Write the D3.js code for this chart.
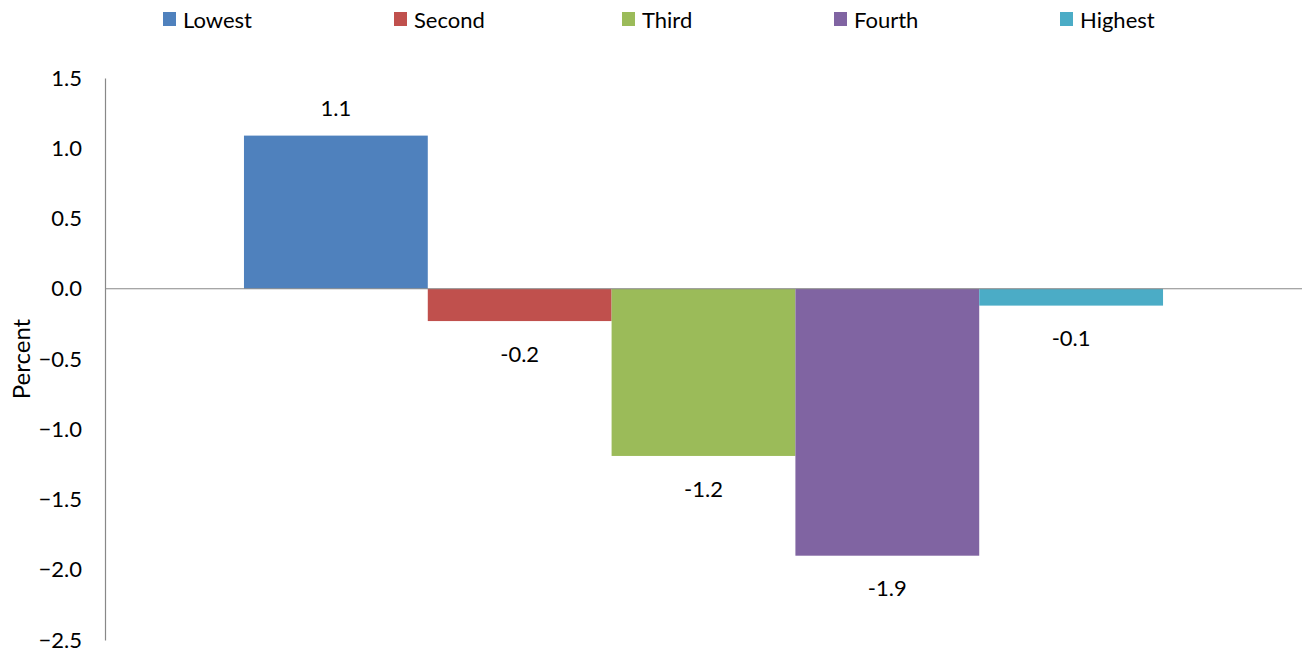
<!DOCTYPE html>
<html>
<head>
<meta charset="utf-8">
<script src="https://cdn.jsdelivr.net/npm/d3@7"></script>
<style>
  body { margin: 0; background: #fff; }
  text { font-family: Lato, "Open Sans", sans-serif; fill: #000; }
</style>
</head>
<body>
<div id="chart"></div>
<script>
// data
var series = ["Lowest", "Second", "Third", "Fourth", "Highest"];
var values = [1.09, -0.23, -1.19, -1.9, -0.12];
var labels = ["1.1", "-0.2", "-1.2", "-1.9", "-0.1"];
var colors = ["#4F81BD", "#C0504D", "#9BBB59", "#8064A2", "#4BACC6"];
var yTicks = [1.5, 1.0, 0.5, 0.0, -0.5, -1.0, -1.5, -2.0, -2.5];

var svgWidth = 1302, svgHeight = 651;
var margin = { top: 78, right: 0, bottom: 11, left: 105 };
var width = svgWidth - margin.left - margin.right;
var height = svgHeight - margin.top - margin.bottom;

var svg = d3.select("#chart").append("svg")
    .attr("width", svgWidth)
    .attr("height", svgHeight);

var chartGroup = svg.append("g")
    .attr("transform", `translate(${margin.left}, ${margin.top})`);

var xScale = d3.scaleBand()
    .domain(series)
    .range([0, width])
    .paddingInner(0)
    .paddingOuter(0.756);

var yScale = d3.scaleLinear()
    .domain([-2.5, 1.5])
    .range([height, 0]);

// y axis: labels only, plus the vertical line
var yAxis = d3.axisLeft(yScale)
    .tickValues(yTicks)
    .tickFormat(d3.format(".1f"))
    .tickSize(0)
    .tickPadding(23);

var yg = chartGroup.append("g").call(yAxis);
yg.select(".domain").attr("stroke", "#888").attr("stroke-width", 1.2);
yg.selectAll("text")
    .style("font-size", "22px")
    .style("font-family", "Lato, 'Open Sans', sans-serif")
    .attr("fill", "#000");

// bars
chartGroup.selectAll("rect.bar")
    .data(values)
    .enter()
    .append("rect")
    .attr("class", "bar")
    .attr("x", (d, i) => xScale(series[i]))
    .attr("width", xScale.bandwidth())
    .attr("y", d => yScale(Math.max(0, d)))
    .attr("height", d => Math.abs(yScale(d) - yScale(0)))
    .attr("fill", (d, i) => colors[i]);

// zero line
chartGroup.append("line")
    .attr("x1", 0)
    .attr("x2", width)
    .attr("y1", yScale(0))
    .attr("y2", yScale(0))
    .attr("stroke", "#888")
    .attr("stroke-width", 1.2);

// value labels
chartGroup.selectAll("text.val")
    .data(values)
    .enter()
    .append("text")
    .attr("class", "val")
    .attr("text-anchor", "middle")
    .attr("x", (d, i) => xScale(series[i]) + xScale.bandwidth() / 2)
    .attr("y", d => d >= 0 ? yScale(d) - 27 : yScale(d) + 33)
    .attr("dy", "0.35em")
    .style("font-size", "22px")
    .text((d, i) => labels[i]);

// y label
svg.append("text")
    .attr("text-anchor", "middle")
    .attr("transform", "translate(30," + (margin.top + yScale(-0.5)) + ")rotate(-90)")
    .style("font-size", "24px")
    .text("Percent");

// legend
var legendX = [163, 394, 622, 834, 1060];
var legend = svg.selectAll("g.legend")
    .data(series)
    .enter()
    .append("g")
    .attr("class", "legend")
    .attr("transform", (d, i) => `translate(${legendX[i]}, 12)`);

legend.append("rect")
    .attr("width", 13)
    .attr("height", 14)
    .attr("fill", (d, i) => colors[i]);

legend.append("text")
    .attr("x", 20)
    .attr("y", 16)
    .style("font-size", "22px")
    .text(d => d);
</script>
</body>
</html>
